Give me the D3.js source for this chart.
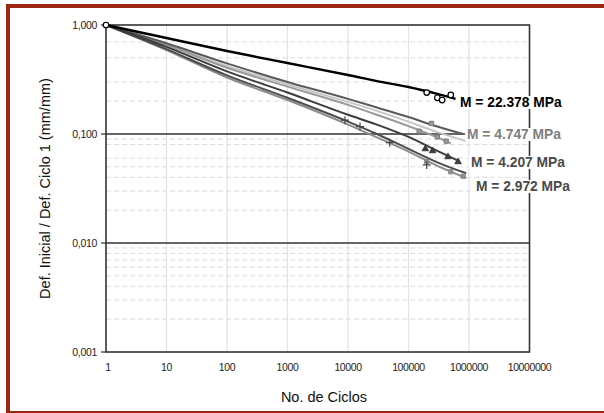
<!DOCTYPE html>
<html>
<head>
<meta charset="utf-8">
<script src="https://cdn.jsdelivr.net/npm/d3@7"></script>
<style>
  html, body { margin: 0; padding: 0; background: #fff; }
  svg { display: block; font-family: Arial, "Liberation Sans", sans-serif; }
</style>
</head>
<body>
<svg id="chart"></svg>
<script>
// sample points shared by every curve, last value of each curve is its own end
var cycles = [1, 10, 100, 1000, 10000, 30000, 100000, 300000];

var series = [
    { name: "s22a",  color: "#000000", width: 2.4, end: 600000,
      values: [1, 0.76, 0.577, 0.448, 0.348, 0.306, 0.27, 0.233, 0.21] },
    { name: "s47a",  color: "#5a5a5a", width: 2, end: 800000,
      values: [1, 0.68, 0.445, 0.30, 0.21, 0.175, 0.143, 0.117, 0.1] },
    { name: "s47b",  color: "#c6c6c6", width: 2, end: 900000,
      values: [1, 0.665, 0.42, 0.285, 0.197, 0.163, 0.13, 0.104, 0.086] },
    { name: "s47c",  color: "#9a9a9a", width: 2, end: 500000,
      values: [1, 0.655, 0.405, 0.272, 0.185, 0.15, 0.118, 0.093, 0.082] },
    { name: "s42a",  color: "#3c3c3c", width: 2, end: 700000,
      values: [1, 0.63, 0.375, 0.24, 0.15, 0.122, 0.094, 0.07, 0.056] },
    { name: "s29a",  color: "#4d4d4d", width: 2, end: 900000,
      values: [1, 0.6, 0.345, 0.215, 0.13, 0.1, 0.073, 0.055, 0.0436] },
    { name: "s29b",  color: "#8c8c8c", width: 2, end: 900000,
      values: [1, 0.59, 0.33, 0.205, 0.122, 0.093, 0.069, 0.051, 0.0395] }
];

// scattered markers [cycles, value]
var circleMarks = [[1, 1], [200000, 0.24], [300000, 0.215], [360000, 0.205], [500000, 0.228]];
var squareMarks47 = [[240000, 0.125], [150000, 0.106], [300000, 0.094], [420000, 0.086]];
var triangleMarks42 = [[190000, 0.073], [250000, 0.07], [450000, 0.0617], [660000, 0.0555]];
var plusMarks29 = [[8900, 0.134], [15800, 0.117], [49000, 0.0832], [200000, 0.052]];
var squareMarks29 = [[200000, 0.056], [500000, 0.045], [800000, 0.041]];

var labels = [
    { text: "M = 22.378 MPa", color: "#000000", x: 460, y: 102 },
    { text: "M = 4.747 MPa",  color: "#808080", x: 467, y: 134 },
    { text: "M = 4.207 MPa",  color: "#4a4a4a", x: 471, y: 162 },
    { text: "M = 2.972 MPa",  color: "#4a4a4a", x: 476, y: 186 }
];

var xTicks = [1, 10, 100, 1000, 10000, 100000, 1000000, 10000000];
var xTickLabels = ["1", "10", "100", "1000", "10000", "100000", "1000000", "10000000"];
var yTicks = [1, 0.1, 0.01, 0.001];
var yTickLabels = ["1,000", "0,100", "0,010", "0,001"];
var yMinor = [0.7, 0.5, 0.3, 0.2,
              0.09, 0.08, 0.06, 0.05, 0.04, 0.03, 0.02,
              0.009, 0.008, 0.007, 0.006, 0.005, 0.004, 0.003, 0.002];

var W = 604, H = 413;
var pL = 106, pR = 529.5, pT = 25, pB = 352;

var svg = d3.select("#chart").attr("width", W).attr("height", H);

svg.append("rect").attr("width", W).attr("height", H).attr("fill", "#fff");

// red frame
svg.append("rect")
    .attr("x", 8).attr("y", 6)
    .attr("width", 640).attr("height", 407)
    .attr("fill", "none")
    .attr("stroke", "#9b2612")
    .attr("stroke-width", 4);

var x = d3.scaleLog().domain([1, 1e7]).range([pL, pR]);
var y = d3.scaleLog().domain([0.001, 1]).range([pB, pT]);

var g = svg.append("g");

// minor horizontal dashed grid
g.selectAll(".minor").data(yMinor).enter().append("line")
    .attr("x1", pL).attr("x2", pR)
    .attr("y1", d => y(d)).attr("y2", d => y(d))
    .attr("stroke", "#dcdcdc")
    .attr("stroke-width", 1)
    .attr("stroke-dasharray", "5,3");

// vertical grid
g.selectAll(".vgrid").data(xTicks.slice(1, -1)).enter().append("line")
    .attr("x1", d => x(d)).attr("x2", d => x(d))
    .attr("y1", pT).attr("y2", pB)
    .attr("stroke", "#e2e2e2")
    .attr("stroke-width", 1.2);

// major horizontal grid
g.selectAll(".major").data([0.1, 0.01]).enter().append("line")
    .attr("x1", pL).attr("x2", pR)
    .attr("y1", d => y(d)).attr("y2", d => y(d))
    .attr("stroke", "#333")
    .attr("stroke-width", 1.6);

// plot frame
g.append("rect")
    .attr("x", pL).attr("y", pT)
    .attr("width", pR - pL).attr("height", pB - pT)
    .attr("fill", "none")
    .attr("stroke", "#333")
    .attr("stroke-width", 1.6);

// y ticks
g.selectAll(".ytick").data(yTicks).enter().append("line")
    .attr("x1", pL - 5).attr("x2", pL)
    .attr("y1", d => y(d)).attr("y2", d => y(d))
    .attr("stroke", "#333").attr("stroke-width", 1.2);

g.selectAll(".ylab").data(yTicks).enter().append("text")
    .attr("x", 97)
    .attr("y", d => y(d))
    .attr("dy", "0.35em")
    .attr("text-anchor", "end")
    .attr("font-size", "10.5px")
    .attr("letter-spacing", "-0.3px")
    .attr("fill", "#222")
    .text((d, i) => yTickLabels[i]);

g.selectAll(".xlab").data(xTicks).enter().append("text")
    .attr("x", d => x(d) + (d === 1 ? 2 : 0))
    .attr("y", 371)
    .attr("text-anchor", "middle")
    .attr("font-size", "10.5px")
    .attr("letter-spacing", "-0.4px")
    .attr("fill", "#222")
    .text((d, i) => xTickLabels[i]);

// axis titles
svg.append("text")
    .attr("x", 324).attr("y", 402)
    .attr("text-anchor", "middle")
    .attr("font-size", "14.5px")
    .attr("fill", "#111")
    .text("No. de Ciclos");

svg.append("text")
    .attr("transform", "translate(50," + ((pT + pB) / 2) + ") rotate(-90)")
    .attr("text-anchor", "middle")
    .attr("font-size", "14.5px")
    .attr("fill", "#111")
    .text("Def. Inicial / Def. Ciclo 1 (mm/mm)");

// curves
var line = d3.line()
    .x(d => x(d[0]))
    .y(d => y(d[1]))
    .curve(d3.curveMonotoneX);

var drawOrder = ["s47b", "s47c", "s47a", "s29b", "s29a", "s42a", "s22a"];
drawOrder.forEach(function(n) {
    var s = series.find(d => d.name === n);
    var pts = cycles.map((c, i) => [c, s.values[i]]);
    pts.push([s.end, s.values[s.values.length - 1]]);
    g.append("path")
        .datum(pts)
        .attr("d", line)
        .attr("fill", "none")
        .attr("stroke", s.color)
        .attr("stroke-width", s.width)
        .attr("stroke-linejoin", "round");
});

// markers
var sym = d3.symbol();
function marks(data, type, size, fill, stroke, sw) {
    g.append("g").selectAll("path").data(data).enter().append("path")
        .attr("transform", d => "translate(" + x(d[0]) + "," + y(d[1]) + ")")
        .attr("d", sym.type(type).size(size)())
        .attr("fill", fill)
        .attr("stroke", stroke)
        .attr("stroke-width", sw);
}
marks(squareMarks47, d3.symbolSquare, 18, "#9a9a9a", "#7a7a7a", 1);
marks(squareMarks29, d3.symbolSquare, 18, "#8c8c8c", "#8c8c8c", 1);
marks(triangleMarks42, d3.symbolTriangle, 18, "#3c3c3c", "#3c3c3c", 1);
g.append("g").selectAll("path").data(plusMarks29).enter().append("path")
    .attr("transform", d => "translate(" + x(d[0]) + "," + y(d[1]) + ")")
    .attr("d", "M-4,0H4M0,-4V4")
    .attr("stroke", "#444")
    .attr("stroke-width", 1.2);
marks(circleMarks, d3.symbolCircle, 24, "#fff", "#000", 1.2);

// series labels with white boxes
var lab = svg.append("g").selectAll("g").data(labels).enter().append("g");
lab.append("text")
    .attr("x", d => d.x)
    .attr("y", d => d.y)
    .attr("dy", "0.36em")
    .attr("font-size", "13.8px")
    .attr("font-weight", "bold")
    .attr("fill", d => d.color)
    .text(d => d.text);
lab.each(function() {
    var t = d3.select(this).select("text");
    var b = t.node().getBBox();
    d3.select(this).insert("rect", "text")
        .attr("x", b.x - 2).attr("y", b.y + 1)
        .attr("width", b.width + 4).attr("height", b.height - 2)
        .attr("fill", "#fff");
});
</script>
</body>
</html>
